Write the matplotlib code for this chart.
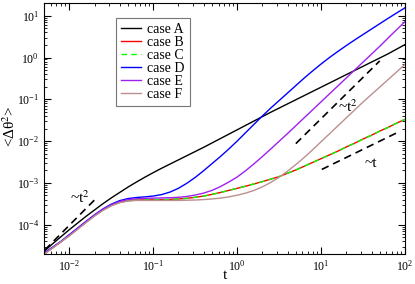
import matplotlib
matplotlib.use("Agg")
import matplotlib.pyplot as plt
import matplotlib.ticker as mticker
import numpy as np

plt.rcParams['font.family'] = ['Liberation Serif', 'DejaVu Serif']
plt.rcParams['mathtext.fontset'] = 'stix'

# values, stored as log10 exponents (t from 10^-2.3 to 10^2)
log_t = [-2.3, -2.2, -2.1, -2.0, -1.9, -1.8, -1.7, -1.6, -1.5, -1.4, -1.3, -1.2,
         -1.1, -1.0, -0.9, -0.8, -0.7, -0.6, -0.5, -0.4, -0.3, -0.2, -0.1, 0.0,
         0.1, 0.2, 0.3, 0.4, 0.5, 0.6, 0.7, 0.8, 0.9, 1.0, 1.1, 1.2,
         1.3, 1.4, 1.5, 1.6, 1.7, 1.8, 1.9, 2.0]

log_A = [-4.64, -4.46, -4.29, -4.12, -3.96, -3.80, -3.65, -3.50, -3.36, -3.23, -3.10, -2.98,
         -2.865, -2.755, -2.65, -2.55, -2.45, -2.35, -2.25, -2.15, -2.045, -1.94, -1.835, -1.73,
         -1.625, -1.52, -1.415, -1.31, -1.21, -1.11, -1.01, -0.91, -0.81, -0.71, -0.61, -0.51,
         -0.41, -0.31, -0.21, -0.11, -0.01, 0.09, 0.20, 0.31]
log_B = [-4.70, -4.56, -4.41, -4.26, -4.10, -3.94, -3.785, -3.65, -3.54, -3.465, -3.425, -3.41,
         -3.405, -3.405, -3.40, -3.395, -3.385, -3.37, -3.345, -3.315, -3.275, -3.23, -3.18, -3.13,
         -3.08, -3.025, -2.97, -2.91, -2.85, -2.77, -2.69, -2.60, -2.51, -2.42, -2.33, -2.24,
         -2.14, -2.05, -1.95, -1.86, -1.76, -1.67, -1.57, -1.48]
log_C = list(log_B)
log_D = [-4.68, -4.54, -4.40, -4.24, -4.08, -3.92, -3.765, -3.625, -3.51, -3.425, -3.375, -3.35,
         -3.335, -3.315, -3.28, -3.22, -3.13, -3.01, -2.87, -2.71, -2.54, -2.37, -2.19, -2.00,
         -1.80, -1.60, -1.40, -1.21, -1.03, -0.85, -0.67, -0.49, -0.32, -0.155, 0.00, 0.145,
         0.285, 0.42, 0.55, 0.68, 0.81, 0.94, 1.065, 1.19]
log_E = [-4.69, -4.55, -4.41, -4.25, -4.09, -3.93, -3.775, -3.635, -3.525, -3.445, -3.40, -3.38,
         -3.37, -3.365, -3.36, -3.355, -3.345, -3.325, -3.29, -3.245, -3.18, -3.09, -2.98, -2.86,
         -2.71, -2.545, -2.37, -2.19, -2.005, -1.82, -1.63, -1.44, -1.25, -1.06, -0.87, -0.68,
         -0.49, -0.30, -0.11, 0.08, 0.27, 0.47, 0.665, 0.86]
log_F = [-4.71, -4.56, -4.41, -4.27, -4.11, -3.95, -3.795, -3.66, -3.55, -3.475, -3.435, -3.42,
         -3.42, -3.42, -3.42, -3.42, -3.42, -3.415, -3.41, -3.40, -3.385, -3.365, -3.335, -3.295,
         -3.245, -3.18, -3.095, -2.99, -2.865, -2.72, -2.56, -2.39, -2.205, -2.015, -1.825, -1.635,
         -1.445, -1.255, -1.065, -0.885, -0.705, -0.525, -0.345, -0.165]

# guide lines (end points)
guide1_t = [0.00513, 0.0204]
guide1_y = [2.5e-5, 4.07e-4]
guide2_t = [5.0, 50.0]
guide2_y = [8.7e-3, 0.83]
guide3_t = [10.2, 80.0]
guide3_y = [2.1e-3, 0.0158]

x_ticks = [1e-2, 1e-1, 1e0, 1e1, 1e2]
y_ticks = [1e-4, 1e-3, 1e-2, 1e-1, 1e0, 1e1]

t = 10.0 ** np.array(log_t)

fig = plt.figure(figsize=(4.15, 2.84), dpi=100)
ax = fig.add_axes([0.106, 0.106, 0.870, 0.883])

lw = 1.0
ax.plot(t, 10.0 ** np.array(log_A), color='black', lw=lw, label='case A')
ax.plot(t, 10.0 ** np.array(log_B), color='red', lw=lw, label='case B')
ax.plot(t, 10.0 ** np.array(log_C), color='#00ff00', lw=lw, ls=(0, (4, 3)), label='case C')
ax.plot(t, 10.0 ** np.array(log_D), color='blue', lw=lw, label='case D')
ax.plot(t, 10.0 ** np.array(log_E), color='#a020f0', lw=lw, label='case E')
ax.plot(t, 10.0 ** np.array(log_F), color='#bc8f8f', lw=lw, label='case F')

for gt, gy in [(guide1_t, guide1_y), (guide2_t, guide2_y), (guide3_t, guide3_y)]:
    ax.plot(gt, gy, color='black', lw=1.2, ls=(0, (4.5, 3)))

ax.text(0.0103, 3.3e-4, '~t$^2$', fontsize=11, ha='left', va='baseline')
ax.text(15.8, 0.051, '~t$^2$', fontsize=11, ha='left', va='baseline')
ax.text(33.3, 2.45e-3, '~t', fontsize=11, ha='left', va='baseline')

ax.set_xscale('log')
ax.set_yscale('log')
ax.set_xlim(0.005, 100)
ax.set_ylim(2e-5, 20)
ax.set_xticks(x_ticks)
ax.set_yticks(y_ticks)
ax.xaxis.set_minor_locator(mticker.LogLocator(base=10, subs=np.arange(2, 10)))
ax.yaxis.set_minor_locator(mticker.LogLocator(base=10, subs=np.arange(2, 10)))
ax.xaxis.set_minor_formatter(mticker.NullFormatter())
ax.yaxis.set_minor_formatter(mticker.NullFormatter())

ax.tick_params(which='both', direction='in', top=True, right=True, labelsize=8.5)
ax.tick_params(which='major', length=5, width=0.8)
ax.tick_params(which='minor', length=2.5, width=0.6)

ax.set_xlabel('t', fontsize=11)
ax.xaxis.set_label_coords(0.5, -0.06)
ax.set_ylabel('<Δθ$^2$>', fontsize=11)
ax.yaxis.set_label_coords(-0.072, 0.51)

leg = ax.legend(loc='upper left', bbox_to_anchor=(0.2, 0.94), borderaxespad=0,
                fontsize=10, frameon=True, fancybox=False, handlelength=1.4,
                handletextpad=0.5, labelspacing=0.0, borderpad=0.35)
leg.get_frame().set_edgecolor('#555555')
leg.get_frame().set_linewidth(0.8)

fig.savefig('out.png', dpi=100)
